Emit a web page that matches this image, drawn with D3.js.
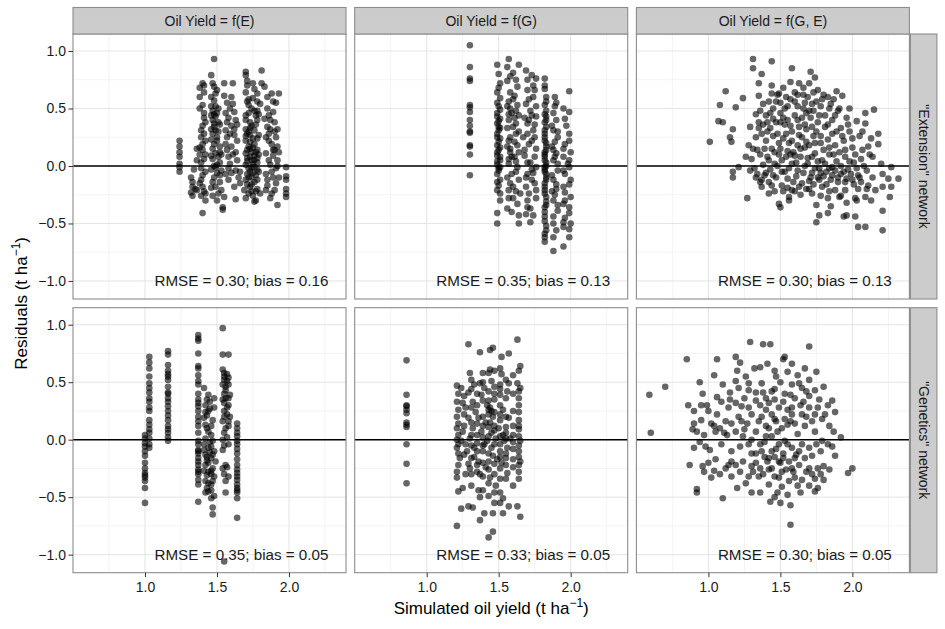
<!DOCTYPE html>
<html>
<head>
<meta charset="utf-8">
<script src="https://cdn.jsdelivr.net/npm/d3@7.9.0/dist/d3.min.js"></script>
<style>
  body { margin: 0; background: #fff; }
  text { font-family: "Liberation Sans", Arial, sans-serif; }
</style>
</head>
<body>
<svg id="chart" width="945" height="629"></svg>
<script>
// facet labels and annotations
const colLabels = ['Oil Yield = f(E)', 'Oil Yield = f(G)', 'Oil Yield = f(G, E)'];
const rowLabels = ['"Extension" network', '"Genetics" network'];
const statLabels = [
  'RMSE = 0.30; bias = 0.16', 'RMSE = 0.35; bias = 0.13', 'RMSE = 0.30; bias = 0.13',
  'RMSE = 0.35; bias = 0.05', 'RMSE = 0.33; bias = 0.05', 'RMSE = 0.30; bias = 0.05'
];
const xTicks = [1.0, 1.5, 2.0];
const yTicks = [-1.0, -0.5, 0.0, 0.5, 1.0];
const xMinor = [0.75, 1.25, 1.75, 2.25];
const yMinor = [-0.75, -0.25, 0.25, 0.75];

// residuals, [simulated, residual]
const extE = [
  [1.24,0.22],[1.24,0.17],[1.24,0.12],[1.24,0.08],[1.24,0.02],[1.24,-0.01],[1.24,-0.05],
  [1.32,-0.10],[1.33,-0.14],[1.33,-0.18],[1.32,-0.23],[1.33,-0.26],[1.36,-0.21],[1.36,0.15],[1.36,0.05],[1.34,-0.03],[1.35,-0.20],
  [1.46,0.79],[1.41,0.70],[1.41,0.64],[1.40,0.53],[1.41,0.46],[1.42,0.38],[1.39,0.25],[1.40,0.19],[1.40,0.14],[1.41,0.06],
  [1.39,-0.02],[1.40,-0.08],[1.39,-0.12],[1.40,-0.18],[1.42,-0.24],[1.39,-0.26],[1.40,-0.41],
  [1.38,0.68],[1.38,0.60],[1.40,0.35],[1.38,0.10],[1.41,0.28],
  [1.48,0.93],[1.48,0.69],[1.49,0.63],[1.48,0.57],[1.47,0.48],[1.49,0.43],[1.48,0.37],[1.49,0.31],[1.47,0.28],[1.50,0.25],
  [1.48,0.19],[1.52,0.17],[1.49,0.11],[1.47,0.06],[1.52,0.03],[1.49,-0.01],[1.53,-0.04],[1.48,-0.10],[1.52,-0.14],[1.49,-0.18],
  [1.53,-0.21],[1.55,-0.27],[1.47,-0.26],[1.54,-0.38],[1.54,-0.36],
  [1.47,0.40],[1.48,0.34],[1.50,0.22],[1.47,0.15],[1.51,0.08],[1.48,0.00],[1.50,-0.06],[1.47,-0.14],[1.51,-0.24],[1.46,0.52],[1.50,0.46],
  [1.55,0.72],[1.61,0.72],[1.55,0.61],[1.61,0.54],[1.56,0.46],[1.62,0.47],[1.57,0.38],[1.63,0.40],[1.56,0.31],[1.59,0.28],
  [1.62,0.27],[1.56,0.19],[1.60,0.17],[1.63,0.12],[1.58,0.08],[1.59,0.02],[1.63,-0.04],[1.56,-0.07],[1.65,-0.10],[1.58,-0.12],
  [1.66,-0.15],[1.63,-0.29],[1.57,0.55],[1.60,0.35],[1.64,0.22],[1.58,-0.02],
  [1.70,0.82],[1.70,0.79],[1.81,0.83],[1.71,0.74],[1.81,0.72],[1.76,0.67],[1.70,0.64],[1.78,0.63],[1.75,0.59],[1.72,0.53],
  [1.80,0.54],[1.76,0.48],[1.70,0.44],[1.73,0.38],[1.78,0.40],[1.70,0.32],[1.76,0.31],[1.73,0.27],[1.79,0.27],[1.70,0.22],
  [1.76,0.19],[1.73,0.15],[1.78,0.14],[1.70,0.11],[1.76,0.09],[1.74,0.05],[1.78,0.03],[1.70,0.01],[1.76,-0.01],[1.73,-0.05],
  [1.77,-0.08],[1.70,-0.12],[1.76,-0.14],[1.73,-0.18],[1.78,-0.20],[1.69,-0.21],[1.75,-0.26],[1.80,-0.24],[1.76,-0.31],[1.77,-0.30],
  [1.72,0.46],[1.74,0.35],[1.71,0.28],[1.75,0.24],[1.72,0.17],[1.74,0.12],[1.71,0.07],[1.75,0.02],[1.72,-0.02],[1.74,-0.10],
  [1.71,-0.16],[1.79,0.45],[1.79,0.10],[1.79,-0.05],[1.72,0.58],
  [1.83,0.69],[1.88,0.63],[1.93,0.63],[1.89,0.56],[1.85,0.50],[1.89,0.47],[1.83,0.41],[1.90,0.38],[1.87,0.32],[1.92,0.32],
  [1.84,0.25],[1.91,0.25],[1.88,0.19],[1.92,0.17],[1.84,0.11],[1.89,0.09],[1.92,0.05],[1.87,0.01],[1.91,-0.02],[1.84,-0.07],
  [1.89,-0.10],[1.93,-0.10],[1.85,-0.17],[1.90,-0.21],[1.88,-0.24],[1.84,-0.21],[1.92,-0.34],[1.86,0.44],[1.90,0.14],
  [1.98,-0.01],[1.98,-0.09],[1.98,-0.12],[1.98,-0.20],[1.98,-0.24],[1.98,-0.27],
  [1.46,0.60],[1.50,0.66],[1.47,0.72],[1.51,0.50],[1.46,0.44],[1.52,0.36],[1.46,0.32],[1.51,0.30],[1.46,0.23],[1.52,0.12],
  [1.46,0.09],[1.50,0.01],[1.46,-0.03],[1.52,-0.08],[1.46,-0.19],[1.50,-0.30],[1.53,0.10],[1.48,0.45],[1.49,0.52],[1.51,0.38],
  [1.40,0.72],[1.38,0.50],[1.41,0.42],[1.39,0.31],[1.42,0.22],[1.38,0.16],[1.42,0.10],[1.39,0.03],[1.42,-0.05],[1.38,-0.15],
  [1.41,-0.22],[1.42,-0.30],
  [1.60,0.60],[1.58,0.42],[1.62,0.32],[1.57,0.25],[1.61,0.10],[1.64,0.05],[1.57,0.14],[1.60,-0.06],[1.62,-0.18],[1.66,-0.05],
  [1.64,0.36],[1.59,0.50],
  [1.71,0.70],[1.75,0.72],[1.78,0.56],[1.71,0.56],[1.74,0.50],[1.78,0.48],[1.70,0.40],[1.77,0.36],[1.73,0.33],[1.70,0.26],
  [1.78,0.24],[1.73,0.21],[1.75,0.16],[1.71,0.14],[1.77,0.12],[1.73,0.08],[1.78,0.07],[1.71,0.04],[1.74,-0.01],[1.78,-0.03],
  [1.71,-0.07],[1.75,-0.06],[1.72,-0.10],[1.78,-0.12],[1.74,-0.16],[1.72,-0.24],[1.77,-0.22],[1.70,-0.28],[1.74,-0.22],[1.76,0.05],
  [1.72,0.30],[1.77,0.44],
  [1.85,0.60],[1.91,0.55],[1.87,0.40],[1.85,0.34],[1.90,0.30],[1.86,0.22],[1.89,0.14],[1.86,0.05],[1.92,0.00],[1.88,-0.05],
  [1.85,-0.12],[1.91,-0.15],[1.87,-0.28],[1.93,0.12],[1.86,0.28]
];

const extG = [
  [1.30,1.05],[1.30,0.86],[1.30,0.76],[1.30,0.74],[1.30,0.53],[1.30,0.51],[1.30,0.47],[1.30,0.40],[1.30,0.35],[1.30,0.30],
  [1.30,0.29],[1.30,0.18],[1.30,0.17],[1.30,0.10],[1.30,-0.08],
  [1.49,0.88],[1.50,0.80],[1.51,0.72],[1.49,0.64],[1.51,0.59],[1.49,0.46],[1.51,0.41],[1.49,0.37],[1.50,0.31],[1.49,0.28],
  [1.51,0.24],[1.49,0.18],[1.50,0.14],[1.49,0.09],[1.51,0.05],[1.49,0.01],[1.50,-0.04],[1.49,-0.07],[1.51,-0.12],[1.49,-0.21],
  [1.51,-0.24],[1.49,-0.41],[1.49,-0.50],[1.50,0.52],[1.50,0.34],[1.50,0.21],[1.50,-0.02],[1.49,0.43],
  [1.57,0.93],[1.56,0.86],[1.64,0.88],[1.60,0.81],[1.56,0.74],[1.63,0.69],[1.58,0.64],[1.61,0.61],[1.57,0.56],[1.63,0.53],
  [1.59,0.46],[1.64,0.44],[1.57,0.40],[1.60,0.34],[1.64,0.30],[1.58,0.25],[1.61,0.21],[1.56,0.17],[1.64,0.12],[1.59,0.08],
  [1.57,0.02],[1.63,-0.01],[1.59,-0.07],[1.56,-0.10],[1.64,-0.12],[1.60,-0.18],[1.57,-0.21],[1.65,-0.24],[1.63,-0.33],[1.56,-0.37],
  [1.64,-0.43],[1.64,-0.50],[1.58,0.50],[1.62,0.37],[1.58,0.12],[1.62,0.04],[1.60,-0.28],
  [1.69,0.83],[1.73,0.79],[1.76,0.76],[1.70,0.66],[1.74,0.60],[1.69,0.54],[1.72,0.48],[1.76,0.43],[1.70,0.37],[1.74,0.31],
  [1.67,0.25],[1.71,0.19],[1.76,0.15],[1.68,0.09],[1.72,0.03],[1.76,-0.01],[1.70,-0.07],[1.73,-0.12],[1.69,-0.18],[1.76,-0.21],
  [1.70,-0.30],[1.72,-0.37],[1.74,-0.43],[1.72,-0.49],[1.70,-0.36],[1.74,0.70],[1.71,0.40],[1.75,0.25],[1.73,-0.03],
  [1.82,0.76],[1.82,0.67],[1.83,0.60],[1.82,0.53],[1.83,0.43],[1.82,0.38],[1.83,0.34],[1.82,0.28],[1.82,0.22],[1.83,0.17],
  [1.82,0.12],[1.82,0.08],[1.83,0.03],[1.82,-0.01],[1.82,-0.05],[1.83,-0.10],[1.82,-0.15],[1.82,-0.21],[1.83,-0.27],[1.82,-0.36],
  [1.82,-0.44],[1.83,-0.52],[1.82,-0.59],[1.82,-0.66],[1.83,0.48],[1.82,0.31],[1.83,0.20],[1.82,0.05],[1.83,-0.07],[1.82,-0.18],
  [1.83,-0.31],[1.82,-0.40],
  [1.89,0.60],[1.88,0.46],[1.90,0.40],[1.88,0.31],[1.91,0.25],[1.87,0.17],[1.90,0.11],[1.88,0.05],[1.91,-0.04],[1.88,-0.12],
  [1.90,-0.20],[1.88,-0.30],[1.91,-0.39],[1.88,-0.50],[1.88,-0.62],[1.88,-0.74],[1.89,0.52],[1.89,-0.25],
  [1.99,0.65],[1.95,0.50],[1.99,0.47],[1.99,0.28],[1.96,0.19],[2.00,0.12],[1.95,0.08],[1.99,-0.01],[1.96,-0.07],[2.00,-0.12],
  [1.95,-0.18],[2.00,-0.27],[1.95,-0.33],[1.99,-0.41],[1.95,-0.49],[2.00,-0.50],[1.95,-0.53],[1.99,-0.62],[1.95,-0.70],[1.97,0.35],
  [1.98,0.02],[1.96,-0.23],
  [1.50,0.68],[1.49,0.55],[1.51,0.49],[1.50,0.39],[1.51,0.33],[1.49,0.25],[1.51,0.16],[1.49,0.12],[1.51,0.08],[1.49,0.04],
  [1.51,-0.01],[1.49,-0.14],[1.50,-0.17],[1.51,-0.30],
  [1.58,0.78],[1.62,0.75],[1.60,0.58],[1.56,0.52],[1.62,0.48],[1.57,0.45],[1.61,0.42],[1.56,0.33],[1.62,0.28],[1.57,0.22],
  [1.63,0.18],[1.58,0.15],[1.61,0.08],[1.57,0.06],[1.62,-0.05],[1.58,-0.15],[1.62,-0.22],[1.59,-0.40],[1.57,-0.28],
  [1.70,0.75],[1.75,0.66],[1.71,0.58],[1.76,0.52],[1.73,0.44],[1.68,0.42],[1.75,0.36],[1.70,0.28],[1.73,0.22],[1.68,0.14],
  [1.75,0.08],[1.70,0.03],[1.74,-0.06],[1.69,-0.10],[1.75,-0.15],[1.71,-0.24],[1.76,-0.28],[1.69,-0.42],
  [1.82,0.70],[1.83,0.56],[1.82,0.45],[1.83,0.40],[1.82,0.25],[1.83,0.14],[1.82,0.10],[1.83,0.00],[1.82,-0.03],[1.83,-0.12],
  [1.82,-0.24],[1.83,-0.34],[1.82,-0.48],[1.83,-0.56],[1.82,-0.62],
  [1.90,0.55],[1.87,0.35],[1.91,0.30],[1.89,0.21],[1.88,0.14],[1.91,0.02],[1.87,-0.08],[1.90,-0.16],[1.87,-0.22],[1.91,-0.34],
  [1.88,-0.44],[1.90,-0.56],[1.89,0.08],
  [1.96,0.41],[1.99,0.22],[1.95,0.15],[1.99,0.05],[1.95,-0.04],[1.99,-0.16],[1.96,-0.30],[1.99,-0.36],[1.96,-0.45],[1.99,-0.55]
];

const extGE = [
  [1.31,0.93],[1.44,0.91],[1.31,0.85],[1.37,0.80],[1.58,0.85],[1.71,0.82],[1.74,0.77],[1.12,0.65],[1.24,0.59],[1.35,0.72],
  [1.35,0.61],[1.44,0.63],[1.49,0.63],[1.57,0.73],[1.63,0.72],[1.70,0.72],[1.89,0.65],[1.93,0.61],[1.83,0.60],[1.08,0.53],
  [1.19,0.51],[1.07,0.39],[1.10,0.38],[1.17,0.32],[1.01,0.21],[1.15,0.25],[1.16,0.21],[1.29,0.34],[1.37,0.28],[1.28,0.18],
  [1.34,0.14],[1.26,0.08],[1.21,-0.01],[1.17,-0.05],[1.17,-0.10],[1.29,-0.04],[1.34,-0.07],[1.37,-0.12],[1.37,-0.18],[1.27,-0.28],
  [1.42,-0.24],[1.49,-0.33],[1.50,-0.36],[1.56,-0.27],[1.56,-0.30],[1.75,-0.34],[1.77,-0.43],[1.83,-0.41],[1.75,-0.49],[1.94,-0.44],
  [1.96,-0.43],[2.02,-0.44],[2.04,-0.53],[2.09,-0.53],[2.21,-0.56],[2.21,-0.39],[2.26,-0.27],[2.32,-0.11],[2.27,-0.01],[2.21,-0.07],
  [2.18,0.19],[2.18,0.28],[2.15,0.49],[2.09,0.46],[2.09,0.37],[2.03,0.39],[2.11,0.17],[2.07,0.14],[2.14,0.08],[2.11,-0.17],
  [2.16,-0.21],[2.21,-0.18],[2.09,-0.27],[2.02,-0.28],[2.00,-0.12],[1.95,-0.21],[1.91,-0.27],[1.88,-0.21],[1.83,-0.28],[1.79,-0.18],
  [1.72,-0.24],[1.65,-0.15],[1.58,-0.21],[1.51,-0.17],[1.47,-0.10],[1.42,-0.14],
  [1.36,0.48],[1.40,0.44],[1.45,0.50],[1.50,0.55],[1.55,0.52],[1.60,0.56],[1.66,0.50],[1.72,0.54],[1.78,0.52],[1.84,0.50],
  [1.90,0.48],[1.96,0.42],[1.38,0.36],[1.43,0.33],[1.47,0.38],[1.52,0.42],[1.57,0.35],[1.62,0.40],[1.67,0.36],[1.71,0.42],
  [1.76,0.38],[1.81,0.34],[1.86,0.40],[1.92,0.33],[1.98,0.30],[2.05,0.26],[1.33,0.25],[1.40,0.22],[1.45,0.26],[1.49,0.20],
  [1.54,0.28],[1.58,0.22],[1.63,0.27],[1.68,0.21],[1.73,0.26],[1.78,0.20],[1.83,0.23],[1.88,0.18],[1.94,0.22],[2.00,0.16],
  [1.30,0.06],[1.36,0.10],[1.41,0.08],[1.46,0.12],[1.51,0.05],[1.55,0.13],[1.60,0.09],[1.64,0.15],[1.69,0.07],[1.74,0.11],
  [1.79,0.05],[1.84,0.10],[1.89,0.04],[1.95,0.08],[2.01,0.03],[2.06,0.06],[1.32,-0.02],[1.38,0.01],[1.43,-0.03],[1.48,0.00],
  [1.53,-0.05],[1.58,0.02],[1.62,-0.04],[1.67,0.00],[1.72,-0.06],[1.77,-0.02],[1.82,-0.05],[1.86,-0.01],[1.92,-0.07],[1.97,-0.03],
  [2.04,-0.08],[2.10,-0.04],[1.40,-0.06],[1.45,-0.08],[1.55,-0.11],[1.61,-0.09],[1.70,-0.13],[1.76,-0.10],[1.85,-0.12],[1.90,-0.14],
  [1.96,-0.11],[2.06,-0.14],[1.44,0.70],[1.52,0.68],[1.60,0.64],[1.66,0.62],[1.76,0.66],[1.50,0.46],[1.42,0.56],[1.62,0.18],
  [1.53,0.36],[1.68,0.46],[2.13,0.24],[2.20,0.02],[2.25,-0.11],[2.13,-0.30],[2.27,-0.18],[1.85,-0.35],[1.96,-0.32],[2.04,-0.20],
  [1.33,0.45],[1.35,0.33],[1.39,0.15],[1.41,0.38],[1.43,0.46],[1.44,0.15],[1.46,0.02],[1.47,0.56],[1.48,0.28],[1.49,0.10],
  [1.50,0.38],[1.51,-0.05],[1.52,0.24],[1.53,0.50],[1.54,0.08],[1.55,0.40],[1.56,0.20],[1.56,-0.02],[1.57,0.58],[1.58,0.30],
  [1.59,0.12],[1.59,-0.14],[1.60,0.44],[1.61,0.03],[1.62,0.52],[1.63,0.34],[1.63,-0.18],[1.64,0.08],[1.65,0.42],[1.65,0.25],
  [1.66,-0.06],[1.67,0.55],[1.67,0.16],[1.68,0.32],[1.68,-0.20],[1.69,0.60],[1.69,0.02],[1.70,0.48],[1.70,0.18],[1.71,-0.10],
  [1.72,0.34],[1.72,0.08],[1.73,0.48],[1.73,-0.16],[1.74,0.20],[1.74,-0.02],[1.75,0.56],[1.75,0.30],[1.76,0.04],[1.77,0.44],
  [1.77,-0.12],[1.78,0.26],[1.78,-0.06],[1.79,0.58],[1.80,0.14],[1.80,-0.09],[1.81,0.44],[1.81,0.02],[1.82,-0.16],[1.83,0.36],
  [1.84,0.16],[1.84,-0.02],[1.85,0.54],[1.86,0.28],[1.86,-0.08],[1.87,0.10],[1.88,0.44],[1.88,-0.04],[1.89,0.30],[1.90,-0.10],
  [1.91,0.12],[1.91,0.50],[1.92,0.00],[1.93,0.26],[1.94,-0.05],[1.95,0.14],[1.95,-0.14],[1.97,0.36],[1.98,0.04],[1.99,-0.07],
  [2.00,0.24],[2.01,-0.16],[2.02,0.10],[2.03,-0.02],[2.05,-0.10],[2.07,0.30],[2.08,0.00],[2.10,-0.20],[2.12,0.10],[2.14,-0.10],
  [1.31,0.15],[1.33,-0.10],[1.35,0.38],[1.36,-0.14],[1.38,0.54],[1.39,-0.08],[1.41,0.30],[1.42,0.05],[1.44,-0.17],[1.45,0.41],
  [1.46,-0.22],[1.48,0.62],[1.50,0.15],[1.52,-0.22],[1.54,0.60],[1.55,-0.19],[1.57,0.10],[1.60,-0.22],[1.62,0.62],[1.64,-0.25],
  [1.66,0.68],[1.70,-0.20],[1.73,0.64],[1.78,-0.26],[1.80,0.62],[1.84,-0.22],[1.87,0.58],[1.92,-0.26],[1.98,0.50],[2.03,-0.30]
];

// genetics network: some series sit on a few simulated values, stored as [x, [residuals]]
const genEStripes = [
  [1.00, [0.04,0.01,-0.03,-0.06,-0.10,-0.14,-0.20,-0.25,-0.29,-0.31,-0.33,-0.36,-0.42,-0.55]],
  [1.03, [0.72,0.67,0.62,0.55,0.49,0.45,0.41,0.36,0.33,0.28,0.25,0.17,0.13,0.09,0.06,0.01,-0.04,-0.07]],
  [1.16, [0.77,0.74,0.65,0.60,0.57,0.55,0.52,0.46,0.41,0.40,0.36,0.33,0.29,0.25,0.21,0.17,0.12,0.09,0.06,0.02,-0.01]],
  [1.37, [0.91,0.88,0.86,0.75,0.64,0.62,0.56,0.51,0.48,0.40,0.35,0.32,0.29,0.25,0.20,0.16,0.12,0.06,-0.01,-0.04,-0.09,-0.10,-0.12,
          -0.16,-0.19,-0.22,-0.26,-0.28,-0.30,-0.35,-0.39,-0.54]],
  [1.64, [0.14,0.10,0.06,0.03,-0.01,-0.04,-0.08,-0.12,-0.17,-0.22,-0.26,-0.29,-0.32,-0.35,-0.39,-0.42,-0.44,-0.46,-0.51,-0.68]]
];
const genEScatter = [
  [1.41,0.45],[1.44,0.39],[1.42,0.30],[1.44,0.25],[1.41,0.19],[1.47,0.17],[1.42,0.13],[1.48,0.36],[1.48,0.28],[1.44,0.07],
  [1.42,0.01],[1.47,-0.01],[1.41,-0.04],[1.44,-0.07],[1.48,-0.10],[1.42,-0.13],[1.46,-0.16],[1.49,-0.19],[1.42,-0.22],[1.47,-0.25],
  [1.44,-0.28],[1.48,-0.32],[1.42,-0.36],[1.46,-0.39],[1.43,-0.42],[1.48,-0.49],[1.46,-0.51],[1.47,-0.59],[1.47,-0.65],
  [1.45,0.33],[1.43,0.21],[1.46,0.04],[1.45,-0.11],[1.43,-0.18],[1.46,-0.30],[1.44,-0.45],
  [1.43,0.35],[1.45,0.27],[1.42,0.24],[1.46,0.12],[1.43,0.10],[1.45,-0.02],[1.41,-0.09],[1.46,-0.06],[1.43,-0.15],[1.47,-0.13],
  [1.44,-0.20],[1.41,-0.27],[1.46,-0.27],[1.43,-0.31],[1.47,-0.36],[1.44,-0.38],[1.42,-0.46],[1.46,-0.44],
  [1.54,0.97],[1.54,0.74],[1.58,0.74],[1.54,0.61],[1.55,0.55],[1.58,0.54],[1.54,0.48],[1.56,0.43],[1.59,0.39],[1.54,0.35],
  [1.58,0.30],[1.55,0.25],[1.59,0.20],[1.54,0.16],[1.58,0.12],[1.55,0.06],[1.54,0.00],[1.58,-0.04],[1.54,-0.09],[1.56,-0.22],
  [1.54,-0.25],[1.58,-0.32],[1.56,-0.36],[1.56,-0.46],[1.57,0.51],[1.56,0.36],[1.57,0.22],[1.55,-1.06],
  [1.55,0.58],[1.57,0.57],[1.55,0.52],[1.58,0.48],[1.56,0.46],[1.55,0.40],[1.58,0.36],[1.55,0.32],[1.57,0.28],[1.55,0.20],
  [1.58,0.16],[1.56,0.10],[1.57,0.02],[1.55,-0.05],[1.57,-0.24],[1.55,-0.30]
];

const genGStripes = [
  [0.86, [0.69,0.39,0.30,0.29,0.26,0.23,0.15,0.13,0.11,-0.04,-0.21,-0.38]]
];
const genGScatter = [
  [1.29,0.83],[1.37,0.76],[1.44,0.78],[1.46,0.80],[1.52,0.72],[1.57,0.75],[1.63,0.87],[1.65,0.64],[1.44,0.61],[1.30,0.58],
  [1.39,0.58],[1.52,0.57],[1.21,0.47],[1.24,0.45],[1.33,0.48],[1.37,0.49],[1.45,0.51],[1.51,0.48],[1.57,0.49],[1.63,0.49],
  [1.65,0.45],[1.29,0.41],[1.38,0.39],[1.51,0.39],[1.56,0.42],[1.21,0.33],[1.25,0.32],[1.32,0.33],[1.42,0.30],[1.45,0.25],
  [1.53,0.26],[1.64,0.30],[1.21,0.20],[1.29,0.19],[1.36,0.19],[1.43,0.22],[1.51,0.17],[1.57,0.19],[1.64,0.17],[1.21,0.10],
  [1.25,0.07],[1.32,0.10],[1.38,0.07],[1.45,0.06],[1.50,0.10],[1.55,0.06],[1.64,0.09],[1.21,0.00],[1.24,-0.01],[1.30,0.01],
  [1.35,-0.03],[1.42,-0.01],[1.48,0.01],[1.54,-0.01],[1.58,0.01],[1.65,-0.01],[1.21,-0.07],[1.28,-0.10],[1.33,-0.07],[1.39,-0.10],
  [1.45,-0.07],[1.51,-0.10],[1.56,-0.07],[1.64,-0.10],[1.23,-0.16],[1.29,-0.21],[1.36,-0.19],[1.43,-0.19],[1.49,-0.17],[1.55,-0.16],
  [1.60,-0.17],[1.65,-0.19],[1.21,-0.28],[1.30,-0.25],[1.37,-0.30],[1.44,-0.33],[1.51,-0.25],[1.56,-0.29],[1.64,-0.28],[1.21,-0.33],
  [1.25,-0.42],[1.36,-0.44],[1.43,-0.49],[1.37,-0.50],[1.53,-0.51],[1.47,-0.55],[1.51,-0.55],[1.24,-0.60],[1.29,-0.58],[1.32,-0.59],
  [1.40,-0.64],[1.46,-0.64],[1.53,-0.64],[1.57,-0.58],[1.63,-0.58],[1.65,-0.67],[1.37,-0.70],[1.21,-0.75],[1.46,-0.80],[1.43,-0.85],
  [1.40,0.45],[1.47,0.35],[1.44,0.28],[1.41,0.15],[1.47,0.12],[1.34,0.24],[1.53,0.04],[1.40,-0.04],[1.46,-0.14],[1.33,-0.15],
  [1.52,-0.20],[1.41,-0.24],[1.60,0.25],[1.60,-0.02],[1.26,0.22],[1.48,-0.40],[1.44,0.15],[1.46,0.20],
  [1.22,0.40],[1.22,0.26],[1.22,0.14],[1.22,0.04],[1.22,-0.04],[1.22,-0.12],[1.22,-0.22],[1.22,-0.45],
  [1.26,0.38],[1.27,0.28],[1.26,0.12],[1.27,-0.04],[1.26,-0.13],[1.27,-0.30],
  [1.31,0.52],[1.31,0.44],[1.31,0.28],[1.31,0.15],[1.31,0.04],[1.31,-0.05],[1.31,-0.16],[1.31,-0.30],[1.31,-0.40],
  [1.35,0.40],[1.35,0.30],[1.35,0.14],[1.35,0.04],[1.35,-0.10],[1.35,-0.22],[1.35,-0.28],
  [1.39,0.50],[1.39,0.34],[1.39,0.20],[1.39,0.12],[1.39,0.02],[1.39,-0.05],[1.39,-0.20],[1.39,-0.32],[1.39,-0.44],
  [1.43,0.58],[1.43,0.42],[1.43,0.34],[1.43,0.26],[1.43,0.11],[1.43,0.03],[1.43,-0.12],[1.43,-0.26],[1.43,-0.38],
  [1.47,0.60],[1.47,0.46],[1.47,0.40],[1.47,0.24],[1.47,0.08],[1.47,-0.04],[1.47,-0.21],[1.47,-0.30],[1.47,-0.46],
  [1.51,0.62],[1.51,0.44],[1.51,0.30],[1.51,0.22],[1.51,0.03],[1.51,-0.04],[1.51,-0.15],[1.51,-0.34],[1.51,-0.46],
  [1.55,0.52],[1.55,0.36],[1.55,0.20],[1.55,0.11],[1.55,0.01],[1.55,-0.12],[1.55,-0.22],[1.55,-0.34],
  [1.60,0.56],[1.60,0.40],[1.60,0.12],[1.60,0.04],[1.60,-0.08],[1.60,-0.24],[1.60,-0.40],
  [1.64,0.60],[1.64,0.42],[1.64,0.36],[1.64,0.24],[1.64,0.12],[1.64,0.03],[1.64,-0.05],[1.64,-0.15],[1.64,-0.22],[1.64,-0.34]
];

const genGE = [
  [0.59,0.39],[0.70,0.46],[0.60,0.06],[0.85,0.70],[0.94,0.50],[1.06,0.70],[1.04,0.56],[1.19,0.72],[1.22,0.67],[1.29,0.85],
  [1.38,0.83],[1.43,0.83],[1.70,0.81],[1.53,0.72],[1.52,0.70],[1.36,0.63],[1.55,0.59],[1.67,0.62],[1.75,0.59],[1.47,0.55],
  [1.37,0.49],[1.50,0.50],[1.58,0.48],[1.63,0.49],[1.65,0.45],[1.74,0.43],[1.19,0.51],[1.28,0.49],[1.21,0.45],[1.15,0.41],
  [1.28,0.43],[1.33,0.41],[1.38,0.41],[1.44,0.42],[1.57,0.39],[1.70,0.38],[1.77,0.35],[1.06,0.37],[1.15,0.35],[0.86,0.30],
  [0.95,0.30],[0.90,0.25],[0.99,0.30],[1.09,0.33],[1.19,0.32],[1.23,0.29],[1.28,0.28],[1.36,0.30],[1.42,0.32],[1.49,0.28],
  [1.55,0.26],[1.64,0.30],[1.70,0.28],[1.83,0.30],[1.88,0.24],[1.81,0.22],[1.74,0.22],[1.65,0.22],[1.58,0.22],[1.44,0.22],
  [1.37,0.20],[1.30,0.22],[1.23,0.16],[1.16,0.14],[1.12,0.16],[1.06,0.22],[1.00,0.25],[0.95,0.17],[0.90,0.14],[0.89,0.09],
  [0.92,0.07],[0.97,0.04],[1.04,0.12],[1.05,0.07],[1.11,0.06],[1.19,0.07],[1.25,0.09],[1.33,0.07],[1.42,0.10],[1.48,0.07],
  [1.55,0.13],[1.60,0.14],[1.67,0.12],[1.74,0.07],[1.79,-0.01],[1.87,0.07],[1.86,-0.06],[0.90,-0.07],[0.98,-0.06],[1.01,-0.09],
  [1.05,-0.17],[1.16,-0.10],[1.28,-0.04],[1.30,0.00],[1.36,-0.04],[1.37,-0.10],[1.44,-0.10],[1.49,-0.04],[1.53,-0.01],[1.58,-0.07],
  [1.63,-0.10],[1.70,-0.07],[1.75,-0.04],[0.87,-0.22],[0.96,-0.23],[0.97,-0.28],[1.02,-0.33],[1.04,-0.27],[1.12,-0.25],[1.16,-0.19],
  [1.19,-0.22],[1.24,-0.19],[1.30,-0.23],[1.31,-0.28],[1.36,-0.25],[1.41,-0.19],[1.44,-0.25],[1.49,-0.19],[1.51,-0.28],[1.56,-0.19],
  [1.58,-0.25],[1.63,-0.22],[1.67,-0.16],[1.70,-0.25],[1.76,-0.25],[1.80,-0.23],[1.16,-0.32],[1.26,-0.38],[1.35,-0.32],[1.42,-0.39],
  [1.49,-0.33],[1.51,-0.41],[1.56,-0.36],[1.60,-0.33],[1.65,-0.35],[1.74,-0.34],[1.80,-0.35],[1.76,-0.42],[1.74,-0.45],[0.92,-0.43],
  [0.92,-0.46],[1.10,-0.51],[1.30,-0.46],[1.43,-0.54],[1.46,-0.50],[1.50,-0.55],[1.57,-0.57],[1.97,-0.29],[2.00,-0.25],[1.57,-0.74],
  [1.40,0.26],[1.46,0.35],[1.52,0.33],[1.47,0.16],[1.53,0.18],[1.40,0.03],[1.46,-0.15],[1.52,-0.12],[1.39,-0.15],[1.61,-0.13],
  [1.20,0.60],[1.26,0.55],[1.32,0.62],[1.41,0.66],[1.46,0.60],[1.58,0.66],[1.62,0.56],[1.70,0.52],[1.80,0.46],[1.86,0.34],
  [1.10,0.48],[1.14,0.28],[1.25,0.36],[1.33,0.34],[1.40,0.36],[1.46,0.44],[1.53,0.40],[1.60,0.36],[1.68,0.42],[1.76,0.28],
  [0.96,0.40],[1.02,0.14],[1.08,0.10],[1.13,0.04],[1.21,0.20],[1.27,0.14],[1.35,0.16],[1.40,0.12],[1.46,0.18],[1.51,0.10],
  [1.57,0.16],[1.62,0.05],[1.68,0.20],[1.72,0.16],[1.79,0.18],[1.84,0.12],[0.94,-0.02],[1.09,-0.04],[1.22,-0.06],[1.33,-0.12],
  [1.39,-0.02],[1.42,-0.16],[1.47,-0.08],[1.52,-0.16],[1.55,-0.04],[1.60,-0.16],[1.65,-0.04],[1.72,-0.14],[1.78,-0.10],[1.83,-0.04],
  [1.00,-0.20],[1.08,-0.30],[1.14,-0.22],[1.22,-0.28],[1.28,-0.32],[1.33,-0.20],[1.38,-0.30],[1.42,-0.26],[1.46,-0.32],[1.54,-0.26],
  [1.59,-0.28],[1.62,-0.40],[1.68,-0.28],[1.72,-0.30],[1.78,-0.30],[1.84,-0.26],[1.88,-0.14],[1.92,0.02],[1.20,-0.42],[1.36,-0.46],
  [1.48,-0.46],[1.55,-0.48],[1.64,-0.46],[1.70,-0.40],[1.24,0.03],[1.30,-0.12],[1.44,0.03],[1.50,-0.20],[1.58,0.28],[1.66,0.33]
];

const panelData = [
  extE, extG, extGE,
  genEStripes.flatMap(([sx, ys]) => ys.map(r => [sx, r])).concat(genEScatter),
  genGStripes.flatMap(([sx, ys]) => ys.map(r => [sx, r])).concat(genGScatter),
  genGE
];

// layout
const padLeft = 73, padTop = 34, pw = 273, ph = 265, gap = 8.7;
const stripTop = 7.5, stripSize = 26.5;
const ink = '#1a1a1a', frame = '#8c8c8c';

const svg = d3.select('#chart');
const x = d3.scaleLinear().domain([0.5, 2.396]).range([0, pw]);
const y = d3.scaleLinear().domain([-1.157, 1.148]).range([ph, 0]);

svg.append('defs').append('clipPath').attr('id', 'panel-clip')
  .append('rect').attr('width', pw).attr('height', ph);

panelData.forEach((pts, i) => {
  let r = Math.floor(i / 3), c = i % 3;
  let g = svg.append('g')
    .attr('transform', `translate(${padLeft + c * (pw + gap)},${padTop + r * (ph + gap)})`);

  g.append('rect').attr('width', pw).attr('height', ph).attr('fill', '#fff');

  // grid
  g.selectAll('.vminor').data(xMinor).join('line')
    .attr('x1', d => x(d)).attr('x2', d => x(d)).attr('y1', 0).attr('y2', ph)
    .attr('stroke', '#f2f2f2').attr('stroke-width', 0.9);
  g.selectAll('.hminor').data(yMinor).join('line')
    .attr('y1', d => y(d)).attr('y2', d => y(d)).attr('x1', 0).attr('x2', pw)
    .attr('stroke', '#f2f2f2').attr('stroke-width', 0.9);
  g.selectAll('.vmajor').data(xTicks).join('line')
    .attr('x1', d => x(d)).attr('x2', d => x(d)).attr('y1', 0).attr('y2', ph)
    .attr('stroke', '#e4e4e4').attr('stroke-width', 1);
  g.selectAll('.hmajor').data(yTicks).join('line')
    .attr('y1', d => y(d)).attr('y2', d => y(d)).attr('x1', 0).attr('x2', pw)
    .attr('stroke', '#e4e4e4').attr('stroke-width', 1);

  // points
  g.append('g').attr('clip-path', 'url(#panel-clip)')
    .selectAll('circle').data(pts).join('circle')
    .attr('cx', d => x(d[0])).attr('cy', d => y(d[1])).attr('r', 3.3)
    .attr('fill', '#000').attr('fill-opacity', 0.6);

  // zero line
  g.append('line').attr('x1', 0).attr('x2', pw).attr('y1', y(0)).attr('y2', y(0))
    .attr('stroke', '#000').attr('stroke-width', 1.4);

  g.append('text')
    .attr('x', x(1.67)).attr('y', y(-1.0))
    .attr('text-anchor', 'middle').attr('dominant-baseline', 'central')
    .attr('font-size', 15.2).attr('fill', ink)
    .text(statLabels[i]);

  g.append('rect').attr('width', pw).attr('height', ph)
    .attr('fill', 'none').attr('stroke', frame).attr('stroke-width', 1.1);

  if (c === 0) {
    let ax = g.append('g').call(d3.axisLeft(y).tickValues(yTicks).tickSize(4.5).tickPadding(2.5).tickFormat(d3.format('.1f')));
    ax.select('.domain').remove();
    ax.selectAll('line').attr('stroke', '#333');
    ax.selectAll('text').attr('font-size', 14).attr('fill', ink).style('font-family', '"Liberation Sans", Arial, sans-serif');
  }
  if (r === 1) {
    let ax = g.append('g').attr('transform', `translate(0,${ph})`)
      .call(d3.axisBottom(x).tickValues(xTicks).tickSize(4.5).tickPadding(4.5).tickFormat(d3.format('.1f')));
    ax.select('.domain').remove();
    ax.selectAll('line').attr('stroke', '#333');
    ax.selectAll('text').attr('font-size', 14).attr('fill', ink).style('font-family', '"Liberation Sans", Arial, sans-serif');
  }
});

// top strips
colLabels.forEach((lab, c) => {
  let sx = padLeft + c * (pw + gap);
  svg.append('rect').attr('x', sx).attr('y', stripTop).attr('width', pw).attr('height', stripSize)
    .attr('fill', '#cccccc').attr('stroke', frame).attr('stroke-width', 1.1);
  svg.append('text').attr('x', sx + pw / 2).attr('y', stripTop + stripSize / 2)
    .attr('text-anchor', 'middle').attr('dominant-baseline', 'central')
    .attr('font-size', 14).attr('fill', ink).text(lab);
});

// right strips
rowLabels.forEach((lab, r) => {
  let sx = padLeft + 3 * pw + 2 * gap + 1, sy = padTop + r * (ph + gap);
  svg.append('rect').attr('x', sx).attr('y', sy).attr('width', stripSize).attr('height', ph)
    .attr('fill', '#cccccc').attr('stroke', frame).attr('stroke-width', 1.1);
  svg.append('text')
    .attr('transform', `translate(${sx + stripSize / 2},${sy + ph / 2}) rotate(90)`)
    .attr('text-anchor', 'middle').attr('dominant-baseline', 'central')
    .attr('font-size', 14).attr('fill', ink).text(lab);
});

// axis titles
let xt = svg.append('text')
  .attr('x', padLeft + (3 * pw + 2 * gap) / 2).attr('y', 614)
  .attr('text-anchor', 'middle').attr('font-size', 17).attr('fill', '#000');
xt.append('tspan').text('Simulated oil yield (t ha');
xt.append('tspan').attr('dy', -7).attr('font-size', 12).text('\u22121');
xt.append('tspan').attr('dy', 7).text(')');

let yt = svg.append('text')
  .attr('transform', `translate(27,${padTop + ph + gap / 2}) rotate(-90)`)
  .attr('text-anchor', 'middle').attr('font-size', 17).attr('fill', '#000');
yt.append('tspan').text('Residuals (t ha');
yt.append('tspan').attr('dy', -7).attr('font-size', 12).text('\u22121');
yt.append('tspan').attr('dy', 7).text(')');
</script>
</body>
</html>
